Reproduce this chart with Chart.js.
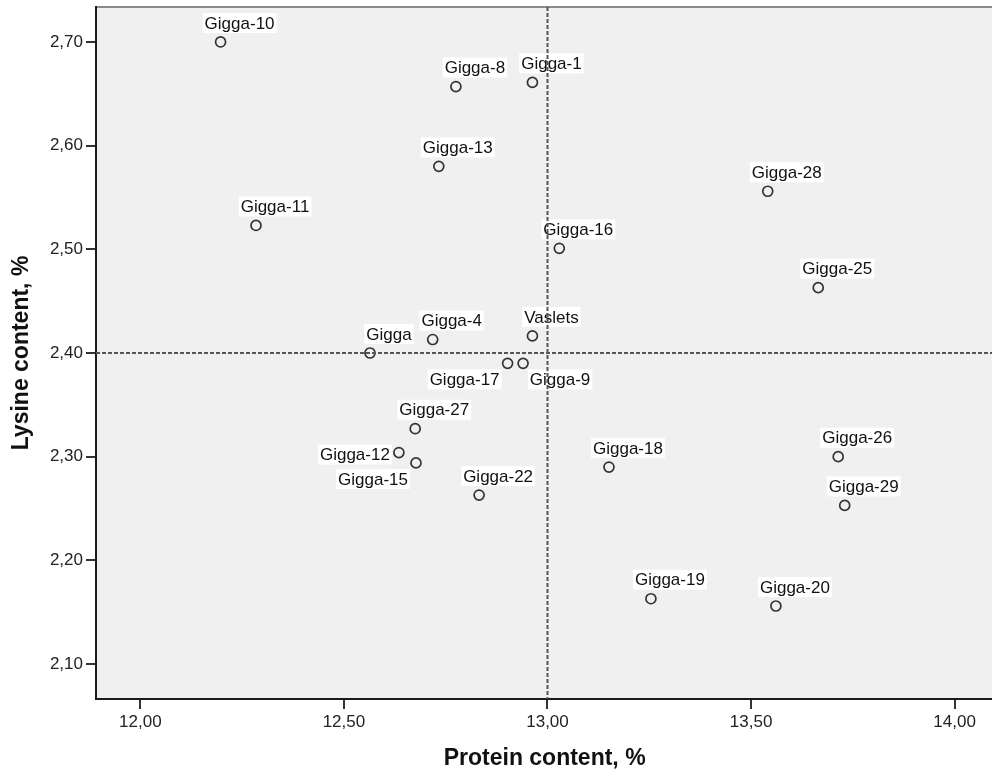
<!DOCTYPE html>
<html lang="en">
<head>
    <meta charset="UTF-8">
    <title>Protein vs Lysine</title>
    <script src="https://cdn.jsdelivr.net/npm/chart.js"></script>
    <style>
        body, html {
            margin: 0;
            padding: 0;
            overflow: hidden;
            background: #ffffff;
            font-family: "Liberation Sans", Arial, sans-serif;
        }
        .wrap {
            position: relative;
            width: 1000px;
            height: 775px;
        }
    </style>
</head>
<body>
    <div class="wrap">
        <canvas id="scatter"></canvas>
    </div>

    <script>
    const varieties = ['Gigga-10', 'Gigga-8', 'Gigga-1', 'Gigga-13', 'Gigga-28', 'Gigga-11', 'Gigga-16',
        'Gigga-25', 'Vaslets', 'Gigga-4', 'Gigga', 'Gigga-17', 'Gigga-9', 'Gigga-27', 'Gigga-12',
        'Gigga-15', 'Gigga-22', 'Gigga-18', 'Gigga-26', 'Gigga-29', 'Gigga-19', 'Gigga-20'];
    const protein = [12.197, 12.775, 12.963, 12.733, 13.541, 12.284, 13.029,
        13.665, 12.963, 12.718, 12.564, 12.902, 12.940, 12.675, 12.635,
        12.677, 12.832, 13.151, 13.714, 13.730, 13.254, 13.561];
    const lysine = [2.700, 2.657, 2.661, 2.580, 2.556, 2.523, 2.501,
        2.463, 2.4165, 2.413, 2.400, 2.390, 2.390, 2.327, 2.304,
        2.294, 2.263, 2.290, 2.300, 2.253, 2.163, 2.156];
    // where each label sits relative to its point
    const labelSide = ['up', 'up', 'up', 'up', 'up', 'up', 'up',
        'up', 'up', 'up', 'up', 'downLeft', 'downRight', 'up', 'left',
        'downLeft', 'up', 'up', 'up', 'up', 'up', 'up'];

    const xTicks = [12.0, 12.5, 13.0, 13.5, 14.0];
    const yTicks = [2.1, 2.2, 2.3, 2.4, 2.5, 2.6, 2.7];
    const refProtein = 13.0;
    const refLysine = 2.40;

    const FONT = '"Liberation Sans", Arial, sans-serif';
    const sideOffset = {
        up: [19, -19],
        downLeft: [-43, 16],
        downRight: [37, 16],
        left: [-44, 2]
    };

    const commaFmt = v => Number(v).toFixed(2).replace('.', ',');

    const plotDecor = {
        id: 'plotDecor',
        beforeDraw(chart) {
            const {ctx, chartArea: a} = chart;
            ctx.save();
            ctx.fillStyle = '#f0f0f0';
            ctx.fillRect(a.left, a.top, a.right - a.left, a.bottom - a.top);
            ctx.strokeStyle = '#8a8a8a';
            ctx.lineWidth = 2;
            ctx.beginPath();
            ctx.moveTo(a.left, a.top);
            ctx.lineTo(a.right, a.top);
            ctx.stroke();
            ctx.restore();
        },
        afterDatasetsDraw(chart) {
            const {ctx, chartArea: a, scales} = chart;
            const meta = chart.getDatasetMeta(0);
            ctx.save();
            ctx.font = '17px ' + FONT;
            ctx.textAlign = 'center';
            ctx.textBaseline = 'middle';
            meta.data.forEach((pt, i) => {
                const off = sideOffset[labelSide[i]];
                const cx = pt.x + off[0];
                const cy = pt.y + off[1];
                const w = ctx.measureText(varieties[i]).width + 4;
                ctx.fillStyle = '#ffffff';
                ctx.fillRect(cx - w / 2, cy - 10, w, 20);
                ctx.fillStyle = '#111111';
                ctx.fillText(varieties[i], cx, cy + 1);
            });

            // reference lines
            const xp = scales.x.getPixelForValue(refProtein);
            const yp = scales.y.getPixelForValue(refLysine);
            ctx.strokeStyle = '#555555';
            ctx.lineWidth = 2;
            ctx.setLineDash([4, 2]);
            ctx.beginPath();
            ctx.moveTo(xp, a.top);
            ctx.lineTo(xp, a.bottom);
            ctx.moveTo(a.left, yp);
            ctx.lineTo(a.right, yp);
            ctx.stroke();
            ctx.restore();
        }
    };

    const axisCommon = {
        border: { display: true, color: '#1a1a1a', width: 2 },
        grid: { drawOnChartArea: false, drawTicks: true, tickLength: 10, color: '#333333', lineWidth: 2 },
        ticks: {
            color: '#222222',
            font: { family: FONT, size: 17 },
            padding: 3,
            callback: commaFmt
        }
    };

    new Chart(document.getElementById('scatter'), {
        type: 'scatter',
        data: {
            datasets: [{
                data: protein.map((p, i) => ({ x: p, y: lysine[i] })),
                pointRadius: 5,
                pointHoverRadius: 5,
                borderWidth: 1.7,
                borderColor: '#333333',
                backgroundColor: 'rgba(0,0,0,0)'
            }]
        },
        options: {
            responsive: true,
            maintainAspectRatio: false,
            animation: false,
            devicePixelRatio: 1,
            layout: { padding: { top: 7, left: 0, right: 0, bottom: 0 } },
            plugins: {
                legend: { display: false },
                tooltip: { enabled: false }
            },
            scales: {
                x: {
                    ...axisCommon,
                    min: 11.891,
                    max: 14.095,
                    afterBuildTicks: s => { s.ticks = xTicks.map(v => ({ value: v })); },
                    afterFit: s => { s.height = 76; s.paddingLeft = 0; s.paddingRight = 0; },
                    title: {
                        display: true,
                        text: 'Protein content, %',
                        color: '#111111',
                        font: { family: FONT, size: 23, weight: 'bold' },
                        padding: { top: 0, bottom: 3 }
                    }
                },
                y: {
                    ...axisCommon,
                    min: 2.0663,
                    max: 2.7337,
                    afterBuildTicks: s => { s.ticks = yTicks.map(v => ({ value: v })); },
                    afterFit: s => { s.width = 96; s.paddingTop = 0; s.paddingBottom = 0; },
                    title: {
                        display: true,
                        text: 'Lysine content, %',
                        color: '#111111',
                        font: { family: FONT, size: 23, weight: 'bold' },
                        padding: { top: 8, bottom: 0 }
                    }
                }
            }
        },
        plugins: [plotDecor]
    });
    </script>
</body>
</html>
